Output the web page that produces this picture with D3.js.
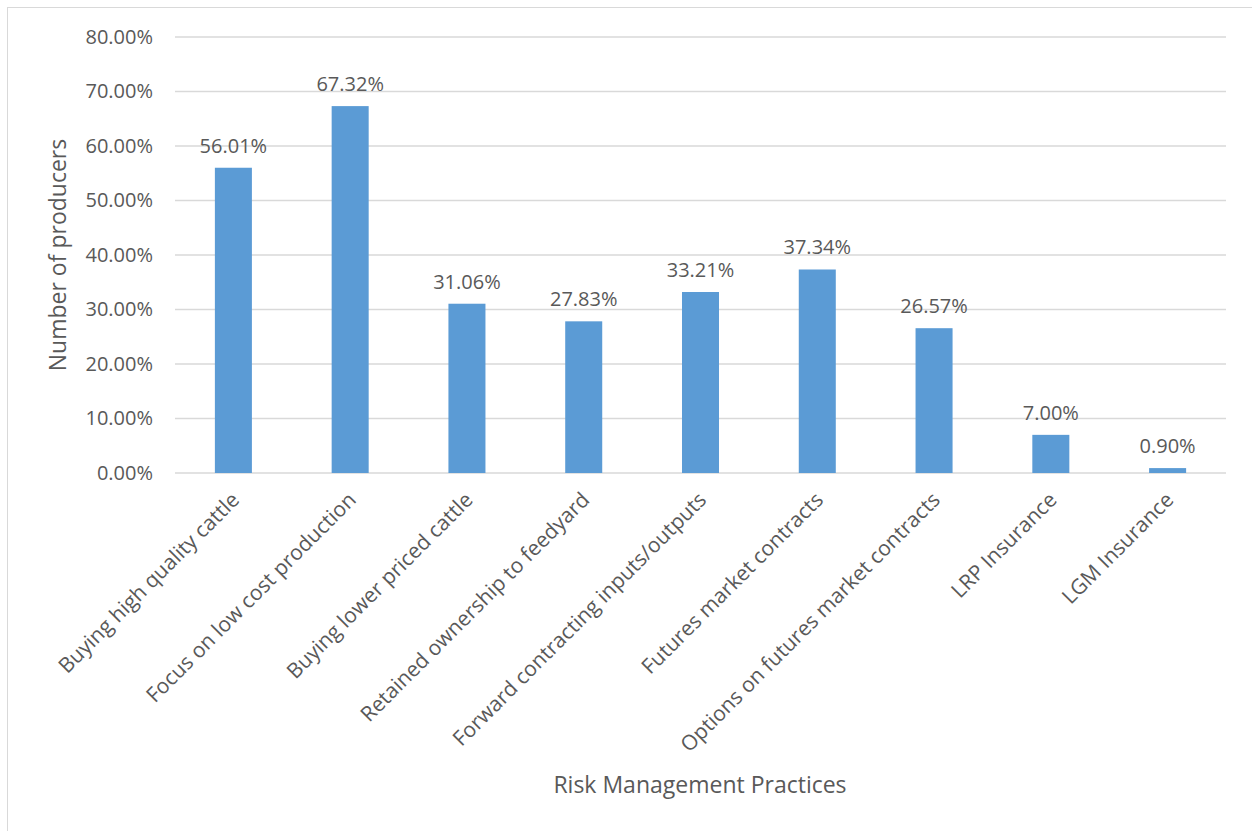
<html>
<head>
	<title>Risk Management Practices</title>
	<script src="https://d3js.org/d3.v7.min.js"></script>
</head>
<body>
	<style> *{
		margin: 0px;
		padding: 0px;
	}
	body { background: #fff; }
	text { font-family: "Open Sans", sans-serif; fill: #595959; }
	</style>

	<svg id="SVGcanvas" xmlns="http://www.w3.org/2000/svg" width="1252" height="831"></svg>

	<script>
	var practices = ["Buying high quality cattle", "Focus on low cost production", "Buying lower priced cattle",
		"Retained ownership to feedyard", "Forward contracting inputs/outputs", "Futures market contracts",
		"Options on futures market contracts", "LRP Insurance", "LGM Insurance"];
	var shares = [56.01, 67.32, 31.06, 27.83, 33.21, 37.34, 26.57, 7.00, 0.90];
	var yTicks = [0, 10, 20, 30, 40, 50, 60, 70, 80];

	var svg = d3.select( "#SVGcanvas" );

	// chart frame (left and top edges show in the picture)
	svg.append( "rect" )
		.attr( "x", 7.5 ).attr( "y", 7.5 )
		.attr( "width", 1260 ).attr( "height", 840 )
		.attr( "fill", "none" ).attr( "stroke", "#d9d9d9" );

	var plotLeft = 175, plotRight = 1226, plotTop = 37, plotBottom = 473;

	var x = d3.scaleBand().domain( practices ).range( [plotLeft, plotRight] ).paddingInner( 0.683 ).paddingOuter( 0.3415 );
	var y = d3.scaleLinear().domain( [0, 80] ).range( [plotBottom, plotTop] );

	// gridlines
	svg.append( "g" ).selectAll( "line" ).data( yTicks ).enter().append( "line" )
		.attr( "x1", plotLeft ).attr( "x2", plotRight )
		.attr( "y1", function ( d ) { return y( d ); } )
		.attr( "y2", function ( d ) { return y( d ); } )
		.attr( "stroke", "#d9d9d9" ).attr( "stroke-width", 1.3 );

	// y axis labels
	var yAxis = d3.axisLeft( y ).tickValues( yTicks ).tickSize( 0 ).tickPadding( 22 )
		.tickFormat( function ( d ) { return d.toFixed( 2 ) + "%"; } );
	var gy = svg.append( "g" ).attr( "transform", "translate(" + plotLeft + ",0)" ).call( yAxis );
	gy.select( ".domain" ).remove();
	gy.selectAll( "text" ).style( "font-size", "20px" ).attr( "fill", "#595959" ).style( "font-family", "'Open Sans', sans-serif" );

	// bars
	svg.append( "g" ).selectAll( "rect" ).data( shares ).enter().append( "rect" )
		.attr( "x", function ( d, i ) { return x( practices[i] ); } )
		.attr( "y", function ( d ) { return y( d ); } )
		.attr( "width", x.bandwidth() )
		.attr( "height", function ( d ) { return plotBottom - y( d ); } )
		.attr( "fill", "#5b9bd5" );

	// value labels
	svg.append( "g" ).selectAll( "text" ).data( shares ).enter().append( "text" )
		.attr( "x", function ( d, i ) { return x( practices[i] ) + x.bandwidth() / 2; } )
		.attr( "y", function ( d ) { return y( d ) - 15; } )
		.attr( "text-anchor", "middle" )
		.style( "font-size", "20px" )
		.text( function ( d ) { return d.toFixed( 2 ) + "%"; } );

	// x axis category labels
	var xAxis = d3.axisBottom( x ).tickSize( 0 ).tickPadding( 0 );
	var gx = svg.append( "g" ).attr( "transform", "translate(0," + plotBottom + ")" ).call( xAxis );
	gx.select( ".domain" ).remove();
	gx.selectAll( "text" )
		.style( "font-size", "21px" ).attr( "fill", "#595959" ).style( "font-family", "'Open Sans', sans-serif" )
		.attr( "text-anchor", "end" )
		.attr( "dy", "0.35em" )
		.attr( "transform", "translate(2,23) rotate(-45)" );

	// axis titles
	svg.append( "text" )
		.attr( "x", 700 ).attr( "y", 793 )
		.attr( "text-anchor", "middle" )
		.style( "font-size", "23px" )
		.text( "Risk Management Practices" );

	svg.append( "text" )
		.attr( "transform", "translate(66,255) rotate(-90)" )
		.attr( "text-anchor", "middle" )
		.style( "font-size", "23px" )
		.text( "Number of producers" );
	</script>

</body>
</html>
